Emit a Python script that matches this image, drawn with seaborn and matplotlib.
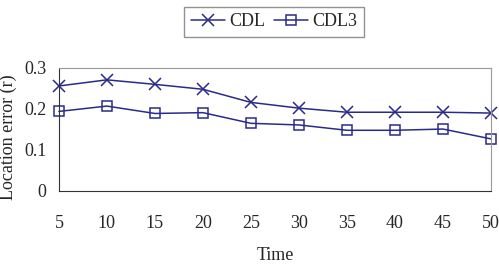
import matplotlib
matplotlib.use("Agg")
import matplotlib.pyplot as plt
import seaborn as sns

time = [5, 10, 15, 20, 25, 30, 35, 40, 45, 50]
cdl = [0.256, 0.271, 0.260, 0.248, 0.216, 0.202, 0.192, 0.192, 0.192, 0.190]
cdl3 = [0.194, 0.207, 0.189, 0.191, 0.165, 0.161, 0.148, 0.148, 0.151, 0.127]
yticks = [0, 0.1, 0.2, 0.3]
ytick_labels = ["0", "0.1", "0.2", "0.3"]

sns.set_style("white")
plt.rcParams["font.family"] = ["Liberation Serif", "DejaVu Serif"]

navy = "#2a2a8c"
fig = plt.figure(figsize=(4.99, 2.74), dpi=100)
ax = fig.add_axes([0.118, 0.303, 0.866, 0.449])

# one call per series: x marker is line art, square is filled
for vals, name, mk, ms in [(cdl, "CDL", "x", 9), (cdl3, "CDL3", "s", 7.5)]:
    sns.lineplot(x=time, y=vals, label=name, color=navy, marker=mk,
                 markersize=ms, markerfacecolor="none", markeredgecolor=navy,
                 markeredgewidth=1.1, linewidth=1.1, ax=ax, clip_on=False)

ax.set_xlim(5, 50)
ax.set_ylim(0, 0.3)
ax.set_xticks(time)
ax.set_yticks(yticks)
ax.set_yticklabels(ytick_labels)
ax.tick_params(direction="in", length=5, labelsize=13, color="#333333",
               pad=9)
ax.tick_params(axis="x", pad=17)
for s in ["left", "bottom"]:
    ax.spines[s].set_color("#333333")
for s in ["top", "right"]:
    ax.spines[s].set_color("#999999")
ax.set_xlabel("Time", fontsize=13, labelpad=11)
ax.set_ylabel("Location error (r)", fontsize=13)
ax.yaxis.set_label_coords(8 / 499, 0.5, transform=fig.transFigure)
ax.yaxis.label.set_verticalalignment("center")

h, l = ax.get_legend_handles_labels()
ax.legend(h, l, loc="center", bbox_to_anchor=(274 / 499, 1 - 22 / 274),
          bbox_transform=fig.transFigure, ncol=2, fontsize=13,
          frameon=True, fancybox=False, edgecolor="#777777",
          handlelength=1.9, columnspacing=0.5, handletextpad=0.22,
          borderpad=0.35, borderaxespad=0)

fig.savefig("out.png", dpi=100)
